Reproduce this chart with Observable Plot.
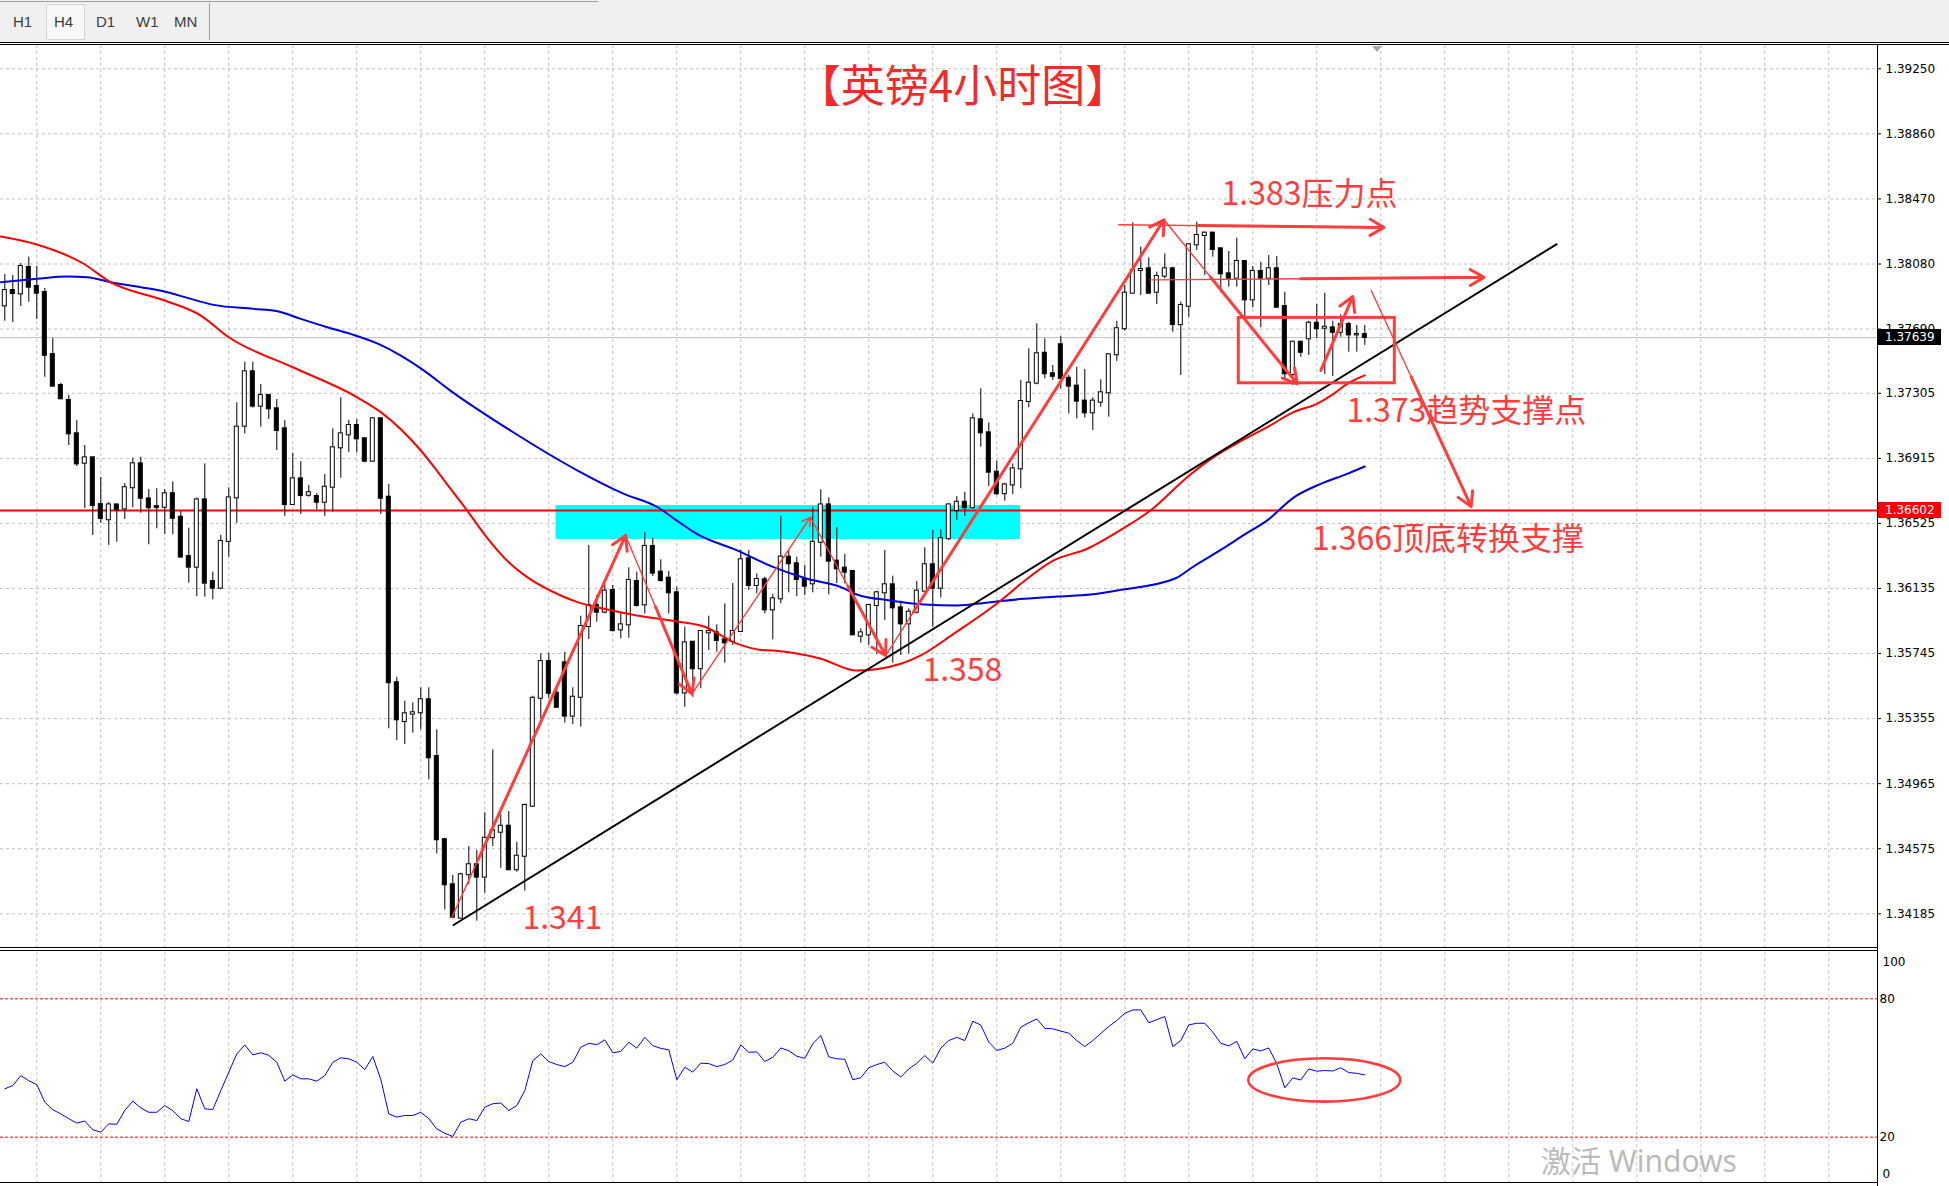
<!DOCTYPE html>
<html><head><meta charset="utf-8">
<script src="https://cdn.jsdelivr.net/npm/d3@7"></script>
<script src="https://cdn.jsdelivr.net/npm/@observablehq/plot@0.6"></script>
<style>
html,body{margin:0;padding:0;background:#fff;}
body{width:1949px;height:1186px;position:relative;overflow:hidden;font-family:"DejaVu Sans",sans-serif;}
#tb{position:absolute;left:0;top:0;width:1949px;height:42px;background:#f0f0f0;}
.tab{position:absolute;top:14px;font-family:"Liberation Sans",sans-serif;font-size:15px;color:#3c3c3c;line-height:16px;}
#wm{position:absolute;left:1541px;top:1142px;font-family:"Noto Sans","Noto Sans CJK SC",sans-serif;font-size:30px;line-height:38px;color:rgba(140,140,140,0.6);white-space:nowrap;}
</style></head><body>
<div id="tb">
 <div style="position:absolute;left:0;top:1px;width:598px;height:1px;background:#a0a0a0"></div>
 <div style="position:absolute;left:46px;top:4px;width:37px;height:34px;background:#f8f8f8;border:1px solid #d4d4d4"></div>
 <span class="tab" style="left:13px">H1</span>
 <span class="tab" style="left:54px">H4</span>
 <span class="tab" style="left:96px">D1</span>
 <span class="tab" style="left:136px">W1</span>
 <span class="tab" style="left:174px">MN</span>
 <div style="position:absolute;left:209px;top:3px;width:1px;height:37px;background:#a0a0a0"></div>
</div>
<div style="position:absolute;left:0;top:42px;width:1949px;height:1px;background:#000"></div>
<div style="position:absolute;left:0;top:44px;width:1949px;height:1px;background:#000"></div>
<div id="main" style="position:absolute;left:0;top:45px"></div>
<div id="osc" style="position:absolute;left:0;top:948px"></div>
<div id="wm">激活 Windows</div>
<script>
// ---------- candles (GBP H4) ----------
const open = [
1.37829,1.37921,1.37901,1.38059,1.37945,1.37909,1.37537,1.37352,1.37262,1.37062,
1.36886,1.36918,1.36638,1.36547,1.36636,1.36612,1.36739,1.36882,1.36672,1.36626,
1.36622,1.36703,1.36562,1.36327,1.36263,1.36666,1.36177,1.36137,1.36417,1.36678,
1.37108,1.37434,1.37228,1.37292,1.37212,1.37092,1.36638,1.36792,1.36694,1.36686,
1.36652,1.36742,1.36978,1.37056,1.37112,1.37032,1.36898,1.37152,1.36682,1.35570,
1.35338,1.35382,1.35390,1.35468,1.35128,1.34629,1.34359,1.34159,1.34419,1.34479,
1.34405,1.34641,1.34674,1.34710,1.34449,1.34530,1.34830,1.35477,1.35697,1.35507,
1.35689,1.35370,1.35483,1.35907,1.36033,1.35993,1.36123,1.35887,1.35917,1.36177,
1.36037,1.36387,1.36233,1.36197,1.36109,1.35509,1.35813,1.35654,1.35869,1.35869,
1.35827,1.35817,1.35877,1.36313,1.36153,1.36187,1.36007,1.36073,1.36323,1.36283,
1.36189,1.36163,1.36412,1.36636,1.36299,1.36257,1.36237,1.35849,1.35857,1.36033,
1.36109,1.36157,1.36019,1.35923,1.35993,1.36119,1.36277,1.36137,1.36433,1.36602,
1.36652,1.36619,1.37146,1.37068,1.36832,1.36703,1.36756,1.36852,1.37256,1.37366,
1.37545,1.37422,1.37596,1.37395,1.37348,1.37258,1.37188,1.37252,1.37308,1.37536,
1.37692,1.37905,1.38041,1.38051,1.37911,1.38007,1.38051,1.37717,1.37827,1.38195,
1.38251,1.38265,1.38171,1.38021,1.37995,1.38095,1.37865,1.38035,1.37995,1.38051,
1.37825,1.37418,1.37611,1.37632,1.37725,1.37695,1.37697,1.37671,1.37717,1.37655,
1.37657];
const high = [
1.38017,1.38011,1.38083,1.38121,1.38065,1.37933,1.37633,1.37364,1.37292,1.37142,
1.36992,1.36922,1.36800,1.36650,1.36636,1.36764,1.36916,1.36922,1.36728,1.36733,
1.36728,1.36774,1.36596,1.36496,1.36678,1.36882,1.36233,1.36453,1.36739,1.37248,
1.37491,1.37491,1.37358,1.37298,1.37268,1.37142,1.36946,1.36896,1.36752,1.36703,
1.36818,1.37092,1.37278,1.37142,1.37148,1.37040,1.37158,1.37158,1.36758,1.35603,
1.35459,1.35450,1.35540,1.35540,1.35288,1.34638,1.34415,1.34429,1.34588,1.34565,
1.34790,1.35168,1.34778,1.34798,1.34614,1.34844,1.35489,1.35743,1.35747,1.35543,
1.35753,1.35540,1.35969,1.36393,1.36093,1.36159,1.36153,1.35993,1.36259,1.36233,
1.36472,1.36436,1.36307,1.36237,1.36143,1.35903,1.35817,1.35883,1.35969,1.35917,
1.36043,1.36165,1.36363,1.36363,1.36223,1.36203,1.36099,1.36568,1.36363,1.36323,
1.36273,1.36622,1.36727,1.36678,1.36499,1.36339,1.36243,1.35893,1.36039,1.36119,
1.36363,1.36209,1.36059,1.36013,1.36177,1.36379,1.36483,1.36487,1.36642,1.36686,
1.36712,1.37182,1.37332,1.37128,1.36898,1.36766,1.36882,1.37382,1.37572,1.37722,
1.37632,1.37472,1.37645,1.37412,1.37461,1.37448,1.37278,1.37386,1.37536,1.37737,
1.37951,1.38327,1.38181,1.38117,1.38031,1.38141,1.38061,1.37851,1.38201,1.38331,
1.38271,1.38271,1.38171,1.38155,1.38235,1.38095,1.38065,1.38091,1.38131,1.38125,
1.37911,1.37617,1.37617,1.37737,1.37837,1.37905,1.37737,1.37776,1.37731,1.37711,
1.37711];
const low = [
1.37737,1.37729,1.37825,1.37851,1.37747,1.37401,1.37342,1.37268,1.36992,1.36866,
1.36614,1.36453,1.36525,1.36393,1.36412,1.36549,1.36619,1.36586,1.36397,1.36493,
1.36460,1.36457,1.36319,1.36167,1.36087,1.36083,1.36067,1.36127,1.36323,1.36526,
1.37062,1.37216,1.37102,1.37148,1.36962,1.36567,1.36632,1.36579,1.36682,1.36607,
1.36567,1.36592,1.36796,1.36950,1.36948,1.36888,1.36892,1.36579,1.35294,1.35224,
1.35200,1.35268,1.35288,1.34988,1.34545,1.34209,1.34155,1.34155,1.34359,1.34141,
1.34309,1.34588,1.34458,1.34445,1.34435,1.34321,1.34824,1.35354,1.35474,1.35417,
1.35328,1.35320,1.35304,1.35829,1.35933,1.35983,1.35873,1.35833,1.35837,1.36023,
1.35983,1.36207,1.36173,1.35983,1.35497,1.35423,1.35483,1.35534,1.35763,1.35753,
1.35687,1.35793,1.35873,1.36123,1.36103,1.35983,1.35827,1.36043,1.36109,1.36087,
1.36093,1.36109,1.36323,1.36097,1.36165,1.36163,1.35853,1.35807,1.35793,1.35739,
1.35943,1.35687,1.35733,1.35743,1.35983,1.36113,1.35903,1.36079,1.36423,1.36542,
1.36567,1.36612,1.36982,1.36746,1.36692,1.36658,1.36698,1.36733,1.37218,1.37356,
1.37392,1.37382,1.37332,1.37182,1.37152,1.37156,1.37082,1.37222,1.37162,1.37496,
1.37677,1.37897,1.37891,1.37901,1.37837,1.37991,1.37671,1.37412,1.37761,1.38161,
1.38011,1.38121,1.37907,1.37941,1.37941,1.37761,1.37817,1.37698,1.37951,1.37817,
1.37378,1.37352,1.37521,1.37532,1.37633,1.37418,1.37406,1.37641,1.37551,1.37551,
1.37592];
const close = [
1.37921,1.37903,1.38065,1.37941,1.37905,1.37533,1.37348,1.37272,1.37062,1.36882,
1.36918,1.36632,1.36555,1.36636,1.36607,1.36739,1.36882,1.36676,1.36619,1.36620,
1.36703,1.36556,1.36323,1.36263,1.36666,1.36167,1.36137,1.36417,1.36678,1.37102,
1.37434,1.37228,1.37292,1.37212,1.37082,1.36638,1.36792,1.36692,1.36709,1.36652,
1.36742,1.36978,1.37062,1.37112,1.37032,1.36898,1.37152,1.36676,1.35570,1.35348,
1.35384,1.35390,1.35468,1.35120,1.34629,1.34359,1.34165,1.34419,1.34479,1.34405,
1.34638,1.34684,1.34710,1.34449,1.34530,1.34834,1.35477,1.35697,1.35507,1.35423,
1.35370,1.35483,1.35907,1.36033,1.35993,1.36119,1.35883,1.35917,1.36183,1.36033,
1.36387,1.36227,1.36183,1.36109,1.35509,1.35809,1.35654,1.35877,1.35877,1.35823,
1.35809,1.35877,1.36307,1.36153,1.36189,1.36007,1.36073,1.36323,1.36283,1.36189,
1.36149,1.36412,1.36636,1.36299,1.36253,1.36233,1.35857,1.35869,1.36033,1.36109,
1.36157,1.36019,1.35923,1.35993,1.36119,1.36277,1.36137,1.36433,1.36636,1.36652,
1.36619,1.37152,1.37068,1.36832,1.36703,1.36756,1.36852,1.37256,1.37366,1.37542,
1.37422,1.37407,1.37395,1.37348,1.37258,1.37188,1.37258,1.37308,1.37536,1.37692,
1.37905,1.38041,1.38047,1.37905,1.38005,1.38051,1.37717,1.37831,1.38195,1.38251,
1.38265,1.38167,1.38021,1.37995,1.38095,1.37865,1.38035,1.37995,1.38051,1.37821,
1.37422,1.37611,1.37551,1.37725,1.37692,1.37701,1.37671,1.37717,1.37655,1.37657,
1.37639];

// ---------- moving averages (bar index, price) ----------
const redMaIdx = [-0.5,4,9.8,13.2,20,24.5,28,36,44,47,52,54,55.7,57.8,59.9,63.2,65.3,69.5,71.6,74.9,79,83.2,87.4,91.6,94.5,96.1,102,106.5,112,114.5,118.6,124.5,127,131.1,135.3,139.5,143.2,147.8,151.1,154.5,157.8,161.1,164,166.1,167.8,170];
const redMaVal = [1.38245,1.38197,1.38083,1.37971,1.37861,1.37771,1.37641,1.37461,1.37282,1.37192,1.36962,1.36842,1.36733,1.36602,1.36463,1.36283,1.36203,1.36093,1.36053,1.36013,1.35973,1.35943,1.35907,1.35803,1.35767,1.35763,1.35714,1.35643,1.35684,1.35734,1.35863,1.36063,1.36163,1.36303,1.36373,1.36486,1.36602,1.36802,1.36922,1.37018,1.37102,1.37192,1.37242,1.37302,1.37362,1.37412];
const blueMaIdx = [-0.5,4,7.8,10.3,13.2,17,20.3,22.8,26.1,31.1,34.1,37,40.3,43.2,46.7,49.5,52.4,55.7,63.6,71.6,77.4,81.6,84,86.5,91.6,96.1,100.3,104.5,106.5,110.7,114.9,119,123.2,127.4,131.6,135.7,139.5,146.3,148.6,152.5,154.9,157.8,161.1,164.5,167.8,170];
const blueMaVal = [1.37971,1.37991,1.38005,1.38001,1.37971,1.37941,1.37911,1.37877,1.37835,1.37811,1.37797,1.37751,1.37701,1.37661,1.37601,1.37531,1.37441,1.37321,1.37070,1.36842,1.36702,1.36622,1.36542,1.36462,1.36362,1.36263,1.36193,1.36143,1.36099,1.36063,1.36039,1.36033,1.36053,1.36073,1.36087,1.36099,1.36127,1.36195,1.36267,1.36381,1.36456,1.36543,1.36680,1.36762,1.36822,1.36866];

// ---------- oscillator (one value per bar) ----------
const oscVal = [
41,42.4,46.7,44.5,42.8,35.2,31.9,30.1,28,26.1,
27,23.2,22.2,25.8,25.6,31.6,35.6,32.7,30.8,30.8,
33.7,31.5,28,26.8,41,32.3,32,40.2,48.2,56.1,
60,55.7,56.6,55.5,52.5,44.3,47,45.3,45.3,44.3,
46.7,52.5,54.4,54,52.5,49.3,55,45,30.1,28.7,
29.4,29.4,30.8,28,23.6,21.7,20.3,26.5,28,27.2,
33,34.5,34.8,31.6,33.7,40.2,53.2,56.1,52.8,51.5,
50.6,52.5,59,60.7,60.1,62.2,56.6,57.2,61.2,58.6,
63.3,59.7,58.5,57.9,44.9,50.3,48.2,52.1,51.9,50.6,
51.5,53.5,60,56.8,57,52.8,54.6,58.7,57.5,55.1,
54.2,60.5,64.1,54.8,54,53.8,44.9,45.8,50.1,51.5,
52.5,48.7,46.1,49.6,52,55.4,52.1,58.6,61.9,63.3,
61.9,70.3,68.6,61.2,57.6,58.6,60.7,67.7,69.6,71.3,
67.2,67,66,65.1,61.9,59.3,61.9,65,68,70.6,
73.7,75.2,75.2,69.6,71,72.3,59.3,61.9,68.7,69.4,
69.4,65.5,60.7,59.6,61.5,54,58.3,57.4,58.7,51.8,
41.4,45.7,44.8,49.6,48.6,48.9,48.7,50.1,48,47.7,
47];
const oscLevels = [80, 20];
const oscScaleTop = [100], oscScaleBottom = [0];

// ---------- axis / levels ----------
const priceTickLabels = ["1.39250","1.38860","1.38470","1.38080","1.37690","1.37305","1.36915","1.36525","1.36135","1.35745","1.35355","1.34965","1.34575","1.34185"];
const currentPrice = 1.37639;
const levelPrice = 1.36602;

// ---------- annotations ----------
const trendX = [56, 194.05], trendY = [1.34115, 1.38201];
const zoneX = [68.9, 126.96], zoneY = [1.36429, 1.36632];
const boxX = [154.25, 173.75], boxY = [1.37365, 1.37757];
const arrowX1 = [55.9, 77.6, 85.9, 100.7, 110.1, 144.9, 164.5, 170.8, 139.25, 143.2];
const arrowY1 = [1.34165, 1.36453, 1.35503, 1.36562, 1.35733, 1.38345, 1.37442, 1.37921, 1.38315, 1.37985];
const arrowX2 = [77.6, 85.9, 100.7, 110.1, 144.9, 161.55, 168.5, 183.3, 172.4, 184.9];
const arrowY2 = [1.36453, 1.35503, 1.36562, 1.35733, 1.38345, 1.37362, 1.37885, 1.36626, 1.38299, 1.38000];
const labelText = ["1.383压力点", "1.373趋势支撑点", "1.366顶底转换支撑", "1.358", "1.341"];
const labelX = [152.1, 167.7, 163.4, 114.7, 64.7];
const labelY = [1.38501, 1.37202, 1.36435, 1.35649, 1.34160];
const titleText = "【英镑4小时图】";
const ellipseCenter = [165.0, 44.6], ellipseRadii = [9.5, 9.4];
const shiftIdx = 171.6;

// ---------- styles ----------
const arrowThickFrom = [0.15, 0.45, 1, 0.5, 0.1, 0.35, 0, 0.4, 0.3, 0.45];
const ANN = "#ff3d3d";
const GRID = "#c0c0c0";
const xDomain = [-0.5375, 234.0875];

const candles = open.map((o, i) => ({i, o, h: high[i], l: low[i], c: close[i], fill: close[i] >= o ? "#ffffff" : "#000000"}));
const redMa = redMaIdx.map((i, k) => ({i, v: redMaVal[k]}));
const blueMa = blueMaIdx.map((i, k) => ({i, v: blueMaVal[k]}));
const priceTicks = priceTickLabels.map(Number);
const gridIdx = d3.range(4, 234, 8);
const arrows = arrowX1.map((x1, k) => ({x1, y1: arrowY1[k], x2: arrowX2[k], y2: arrowY2[k], t: arrowThickFrom[k]}));
const thick = arrows.filter(a => a.t < 1).map(a => ({x1: a.x1 + (a.x2 - a.x1) * a.t, y1: a.y1 + (a.y2 - a.y1) * a.t, x2: a.x2, y2: a.y2}));
const labels = labelText.map((t, k) => ({t, x: labelX[k], y: labelY[k]}));
const osc = oscVal.map((v, i) => ({i, v}));

function frameMark(top, bottom) {
  return (index, scales, values, dims) => {
    const g = d3.create("svg:g").attr("stroke", "#000").attr("stroke-width", 1).attr("shape-rendering", "crispEdges");
    const xr = dims.width - dims.marginRight + 0.5;
    g.append("line").attr("x1", xr).attr("x2", xr).attr("y1", 0).attr("y2", dims.height);
    if (top != null) g.append("line").attr("x1", 0).attr("x2", xr).attr("y1", top).attr("y2", top);
    if (bottom != null) g.append("line").attr("x1", 0).attr("x2", xr).attr("y1", bottom).attr("y2", bottom);
    return g.node();
  };
}

const priceBoxes = [{v: currentPrice, bg: "#000000"}, {v: levelPrice, bg: "#ff0000"}];
function priceBoxMark(index, scales, values, dims) {
  const g = d3.create("svg:g");
  const x0 = dims.width - dims.marginRight + 1;
  for (const b of priceBoxes) {
    const yy = scales.y(b.v);
    g.append("rect").attr("x", x0).attr("y", Math.round(yy) - 8).attr("width", 63).attr("height", 16).attr("fill", b.bg);
    g.append("text").attr("x", x0 + 7).attr("y", yy).attr("dy", "0.36em").attr("fill", "#fff")
      .attr("text-anchor", "start")
      .attr("font-size", 12).attr("font-family", "DejaVu Sans").text(b.v.toFixed(5));
  }
  return g.node();
}
function shiftMark(index, scales) {
  const x = scales.x(shiftIdx);
  return d3.create("svg:path").attr("d", `M${x - 5},1L${x + 5},1L${x},7Z`).attr("fill", "#a8a8a8").node();
}
function ellipseMark(index, scales) {
  const cx = scales.x(ellipseCenter[0]), cy = scales.y(ellipseCenter[1]);
  const rx = scales.x(ellipseCenter[0] + ellipseRadii[0]) - cx;
  const ry = scales.y(ellipseCenter[1] - ellipseRadii[1]) - cy;
  return d3.create("svg:ellipse").attr("cx", cx).attr("cy", cy).attr("rx", rx).attr("ry", ry)
    .attr("fill", "none").attr("stroke", ANN).attr("stroke-width", 2.6).node();
}

const mainPlot = Plot.plot({
  width: 1949, height: 903,
  marginLeft: 0, marginRight: 72, marginTop: 0, marginBottom: 0,
  x: {domain: xDomain, axis: null},
  y: {domain: [1.339771, 1.393897], axis: null},
  color: {type: "identity"},
  style: {background: "#fff", fontFamily: "DejaVu Sans", overflow: "visible"},
  marks: [
    Plot.ruleX(gridIdx, {stroke: GRID, strokeDasharray: "3,3"}),
    Plot.ruleY(priceTicks, {stroke: GRID, strokeDasharray: "3,3"}),
    Plot.rect([{x1: zoneX[0], x2: zoneX[1], y1: zoneY[0], y2: zoneY[1]}], {x1: "x1", x2: "x2", y1: "y1", y2: "y2", fill: "#00ffff"}),
    Plot.ruleY([currentPrice], {stroke: "#c0c0c0", strokeWidth: 1}),
    Plot.ruleY([levelPrice], {stroke: "#ff0000", strokeWidth: 2}),
    Plot.ruleX(candles, {x: "i", y1: "l", y2: "h", stroke: "#000", strokeWidth: 1}),
    Plot.rect(candles, {x1: d => d.i - 0.25, x2: d => d.i + 0.25, y1: "o", y2: "c", fill: "fill", stroke: "#000", strokeWidth: 1, insetTop: -0.5, insetBottom: -0.5}),
    Plot.line(blueMa, {x: "i", y: "v", stroke: "#0000dd", strokeWidth: 2, curve: "monotone-x"}),
    Plot.line(redMa, {x: "i", y: "v", stroke: "#ff0000", strokeWidth: 2, curve: "monotone-x"}),
    Plot.link([{x1: trendX[0], y1: trendY[0], x2: trendX[1], y2: trendY[1]}], {x1: "x1", y1: "y1", x2: "x2", y2: "y2", stroke: "#000", strokeWidth: 2}),
    Plot.rect([{x1: boxX[0], x2: boxX[1], y1: boxY[0], y2: boxY[1]}], {x1: "x1", x2: "x2", y1: "y1", y2: "y2", fill: "none", stroke: ANN, strokeWidth: 3}),
    Plot.arrow(arrows, {x1: "x1", y1: "y1", x2: "x2", y2: "y2", stroke: ANN, strokeWidth: 1.4, headLength: 10}),
    Plot.arrow(thick, {x1: "x1", y1: "y1", x2: "x2", y2: "y2", stroke: ANN, strokeWidth: 3, headLength: 8}),
    Plot.text(labels, {x: "x", y: "y", text: "t", textAnchor: "start", fill: ANN, fontSize: 32, fontFamily: "Noto Sans CJK SC", dy: 1}),
    Plot.text([titleText], {frameAnchor: "top", dx: 24, dy: 42, lineAnchor: "middle", fill: "#f22a2a", fontSize: 44, fontFamily: "Noto Sans CJK SC"}),
    Plot.axisY(priceTicks, {anchor: "right", tickSize: 3, tickPadding: 5, tickFormat: d => d.toFixed(5), fontSize: 12, fontFamily: "DejaVu Sans"}),
    priceBoxMark,
    shiftMark,
    frameMark(null, 902.5)
  ]
});
document.getElementById("main").appendChild(mainPlot);

const oscPlot = Plot.plot({
  width: 1949, height: 238,
  marginLeft: 0, marginRight: 72, marginTop: 4.2, marginBottom: 3.2,
  x: {domain: xDomain, axis: null},
  y: {domain: [0, 100], axis: null},
  style: {background: "#fff", fontFamily: "DejaVu Sans", overflow: "visible"},
  marks: [
    Plot.ruleX(gridIdx, {stroke: GRID, strokeDasharray: "3,3"}),
    Plot.ruleY(oscLevels, {stroke: "#ff0000", strokeDasharray: "3,2"}),
    Plot.line(osc, {x: "i", y: "v", stroke: "#0000ff", strokeWidth: 1}),
    ellipseMark,
    Plot.text(oscLevels, {y: d => d, text: d => String(d), frameAnchor: "right", textAnchor: "start", dx: 2, fontSize: 12, fontFamily: "DejaVu Sans", fill: "#000"}),
    Plot.text(oscScaleTop, {y: d => d, text: d => String(d), frameAnchor: "right", textAnchor: "start", dx: 5, dy: 9, fontSize: 12, fontFamily: "DejaVu Sans", fill: "#000"}),
    Plot.text(oscScaleBottom, {y: d => d, text: d => String(d), frameAnchor: "right", textAnchor: "start", dx: 5, dy: -9, fontSize: 12, fontFamily: "DejaVu Sans", fill: "#000"}),
    frameMark(2.5, 234.5)
  ]
});
document.getElementById("osc").appendChild(oscPlot);
</script>
</body></html>
